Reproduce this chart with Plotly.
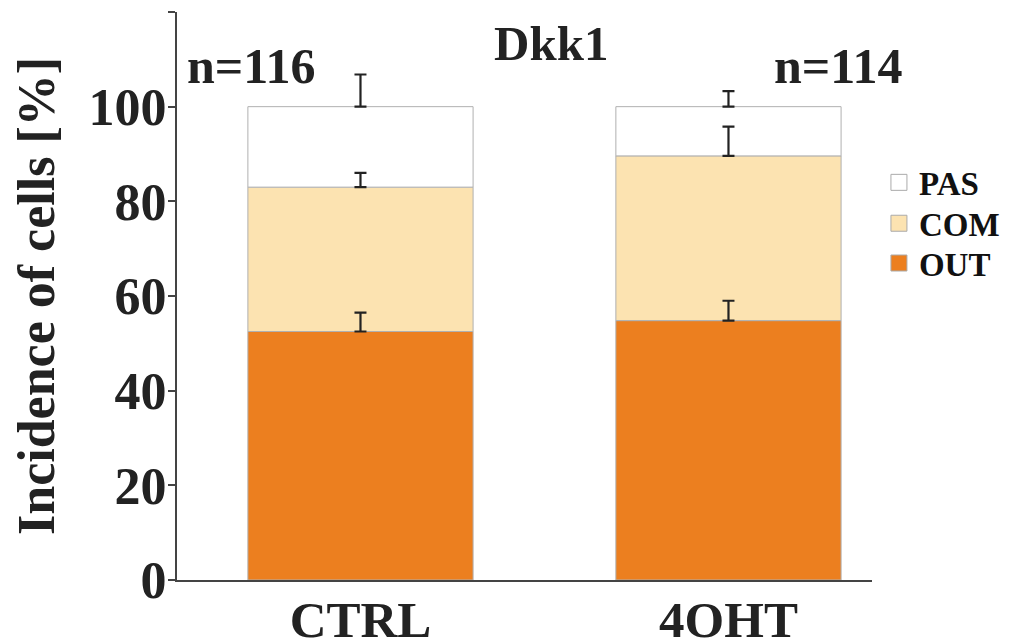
import plotly.graph_objects as go

categories = ["CTRL", "4OHT"]
x_pos = [0, 1]
out_vals = [52.5, 54.8]
com_vals = [30.5, 34.8]
pas_vals = [17.0, 10.4]
out_err = [4.0, 4.2]
com_err = [3.0, 6.2]
pas_err = [6.8, 3.3]
n_labels = ["n=116", "n=114"]
y_ticks = [0, 20, 40, 60, 80, 100, 120]
y_ticktext = ["0", "20", "40", "60", "80", "100", ""]

FONT = "Liberation Serif"
TXT = "#222222"
bar_w = 0.612
colors = {"OUT": "#EC7F1F", "COM": "#FCE3B1", "PAS": "#FFFFFF"}
edge = "#b0b0b0"

com_base = out_vals
pas_base = [a + b for a, b in zip(out_vals, com_vals)]
tops = {
    "OUT": out_vals,
    "COM": pas_base,
    "PAS": [a + b for a, b in zip(pas_base, pas_vals)],
}
errs = {"OUT": out_err, "COM": com_err, "PAS": pas_err}

fig = go.Figure()
fig.add_trace(go.Bar(name="OUT", x=x_pos, y=out_vals, width=bar_w, showlegend=False,
                     marker=dict(color=colors["OUT"], line=dict(color=edge, width=1))))
fig.add_trace(go.Bar(name="COM", x=x_pos, y=com_vals, width=bar_w, base=com_base, showlegend=False,
                     marker=dict(color=colors["COM"], line=dict(color=edge, width=1))))
fig.add_trace(go.Bar(name="PAS", x=x_pos, y=pas_vals, width=bar_w, base=pas_base, showlegend=False,
                     marker=dict(color=colors["PAS"], line=dict(color=edge, width=1))))

# error bars drawn on top of all bars
for key in ["OUT", "COM", "PAS"]:
    fig.add_trace(go.Scatter(x=x_pos, y=tops[key], mode="markers", showlegend=False,
                             marker=dict(size=0.1, color="rgba(0,0,0,0)"),
                             hoverinfo="skip",
                             error_y=dict(type="data", array=errs[key], arrayminus=[0, 0],
                                          symmetric=False, color="#222222", thickness=2.2, width=6)))

# legend entries, one legend each for exact spacing (PAS, COM, OUT from top)
legend_ids = {"PAS": "legend", "COM": "legend2", "OUT": "legend3"}
legend_y = {"PAS": 0.700, "COM": 0.628, "OUT": 0.558}
for key in ["PAS", "COM", "OUT"]:
    fig.add_trace(go.Scatter(x=[None], y=[None], mode="markers", name=key,
                             legend=legend_ids[key],
                             marker=dict(symbol="square", size=16, color=colors[key],
                                         line=dict(color="#aaaaaa", width=1))))

fig.add_annotation(x=-0.295, y=108.6, text=n_labels[0], showarrow=False, xref="x", yref="y",
                   font=dict(family=FONT, size=50, color=TXT, weight="bold"))
fig.add_annotation(x=1.298, y=108.6, text=n_labels[1], showarrow=False, xref="x", yref="y",
                   font=dict(family=FONT, size=50, color=TXT, weight="bold"))
fig.add_annotation(x=0.518, y=113.4, text="Dkk1", showarrow=False, xref="x", yref="y",
                   font=dict(family=FONT, size=49, color=TXT, weight="bold"))

leg_common = dict(x=1.010, xanchor="left", yanchor="middle",
                  font=dict(family=FONT, size=33, color="#111111", weight="bold"),
                  itemwidth=30, bgcolor="rgba(0,0,0,0)")

fig.update_layout(
    width=1001, height=634,
    margin=dict(l=169, r=135, t=4, b=62),
    plot_bgcolor="white", paper_bgcolor="white",
    barmode="overlay",
    showlegend=True,
    legend=dict(y=legend_y["PAS"], **leg_common),
    legend2=dict(y=legend_y["COM"], **leg_common),
    legend3=dict(y=legend_y["OUT"], **leg_common),
    xaxis=dict(range=[-0.4986, 1.39], tickvals=x_pos, ticktext=categories,
               showline=True, linecolor="#444444", linewidth=2, ticks="", showgrid=False,
               zeroline=False, automargin=False, ticklabelstandoff=-6,
               tickfont=dict(family=FONT, size=51, color=TXT, weight="bold")),
    yaxis=dict(range=[0, 120], tickvals=y_ticks, ticktext=y_ticktext,
               showline=True, linecolor="#444444", linewidth=2, ticks="outside",
               ticklen=7, tickwidth=2, tickcolor="#444444", showgrid=False, zeroline=False,
               automargin=False, ticklabelstandoff=-9,
               tickfont=dict(family=FONT, size=52, color=TXT, weight="bold"),
               title=dict(text="Incidence of cells [%]", standoff=22,
                          font=dict(family=FONT, size=52, color=TXT, weight="bold"))),
)

fig.write_html("out.html")
